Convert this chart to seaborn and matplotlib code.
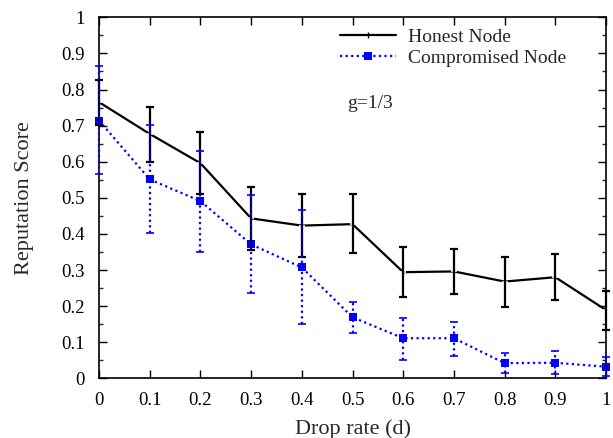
import matplotlib
matplotlib.use("Agg")
import matplotlib.pyplot as plt
import seaborn as sns
import numpy as np
import pandas as pd
from matplotlib.lines import Line2D
from matplotlib.ticker import MultipleLocator, FuncFormatter

drop_rate = [0.0, 0.1, 0.2, 0.3, 0.4, 0.5, 0.6, 0.7, 0.8, 0.9, 1.0]
honest_mean = [0.765, 0.677, 0.596, 0.443, 0.423, 0.427, 0.294, 0.296, 0.268, 0.280, 0.189]
honest_low = [0.703, 0.600, 0.510, 0.355, 0.336, 0.347, 0.224, 0.233, 0.198, 0.218, 0.133]
honest_high = [0.826, 0.751, 0.681, 0.531, 0.511, 0.510, 0.363, 0.358, 0.337, 0.343, 0.242]
comp_mean = [0.714, 0.551, 0.491, 0.371, 0.307, 0.169, 0.111, 0.111, 0.042, 0.043, 0.032]
comp_low = [0.566, 0.402, 0.351, 0.237, 0.150, 0.126, 0.052, 0.062, 0.015, 0.012, 0.006]
comp_high = [0.866, 0.702, 0.630, 0.508, 0.466, 0.211, 0.168, 0.155, 0.069, 0.075, 0.058]

sns.set_theme(style="ticks")
plt.rcParams['font.family'] = ['Liberation Serif', 'DejaVu Serif']
plt.rcParams['font.size'] = 14

fig = plt.figure(figsize=(6.13, 4.38), dpi=100)
ax = fig.add_axes([0.1615, 0.1363, 0.8271, 0.8242])

df = pd.DataFrame({
    "d": drop_rate * 2,
    "score": honest_mean + comp_mean,
    "node": ["Honest Node"] * len(drop_rate) + ["Compromised Node"] * len(drop_rate),
})

honest_df = df[df.node == "Honest Node"]
comp_df = df[df.node == "Compromised Node"]

sns.lineplot(data=honest_df, x="d", y="score", ax=ax, color="black", lw=1.6,
             marker="+", markersize=4, markeredgewidth=1.2, legend=False, clip_on=False)
sns.lineplot(data=comp_df, x="d", y="score", ax=ax, color="#0000ff", lw=1.6,
             linestyle=(0, (1, 1.5)), marker="s", markersize=5.5, markeredgewidth=0,
             legend=False, clip_on=False)

h_err = np.array([np.array(honest_mean) - np.array(honest_low), np.array(honest_high) - np.array(honest_mean)])
c_err = np.array([np.array(comp_mean) - np.array(comp_low), np.array(comp_high) - np.array(comp_mean)])

eb1 = ax.errorbar(drop_rate, honest_mean, yerr=h_err, fmt="none", ecolor="black",
                  elinewidth=1.6, capsize=3, capthick=1.6, zorder=3, clip_on=False)
eb2 = ax.errorbar(drop_rate, comp_mean, yerr=c_err, fmt="none", ecolor="#0000ff",
                  elinewidth=1.6, capsize=3, capthick=1.2, zorder=4, clip_on=False)
for ln in eb2[2]:
    ln.set_linestyle((0, (1, 1.5)))

ax.set_xlim(0, 1)
ax.set_ylim(0, 1)
ax.xaxis.set_major_locator(MultipleLocator(0.1))
ax.yaxis.set_major_locator(MultipleLocator(0.1))
ax.yaxis.set_minor_locator(MultipleLocator(0.05))
fmt = FuncFormatter(lambda v, p: "%g" % round(v, 2))
ax.xaxis.set_major_formatter(fmt)
ax.yaxis.set_major_formatter(fmt)
ax.tick_params(axis="both", which="major", direction="in", length=6, width=1,
               top=True, right=True, labelsize=13.5, colors="black", pad=10)
ax.tick_params(axis="y", which="minor", direction="in", length=3, width=1, right=True)
for s in ax.spines.values():
    s.set_linewidth(1.2)
    s.set_color("black")
    s.set_visible(True)

ax.set_xlabel("Drop rate (d)", fontsize=16, labelpad=7)
ax.set_ylabel("Reputation Score", fontsize=16, labelpad=20)

ax.text(0.49, 0.762, "g=1/3", fontsize=14, va="center", ha="left")

handles = [
    Line2D([0], [0], color="black", lw=1.6, marker="|", markersize=5),
    Line2D([0], [0], color="#0000ff", lw=1.6, linestyle=(0, (1, 1.5)), marker="s",
           markersize=5.5, markeredgewidth=0),
]
ax.legend(handles, ["Honest Node", "Compromised Node"], loc="upper left",
          bbox_to_anchor=(0.46, 0.99), frameon=False, fontsize=14,
          handlelength=2.9, handletextpad=0.6, labelspacing=0.15, borderaxespad=0)

fig.savefig("out.png", dpi=100)
